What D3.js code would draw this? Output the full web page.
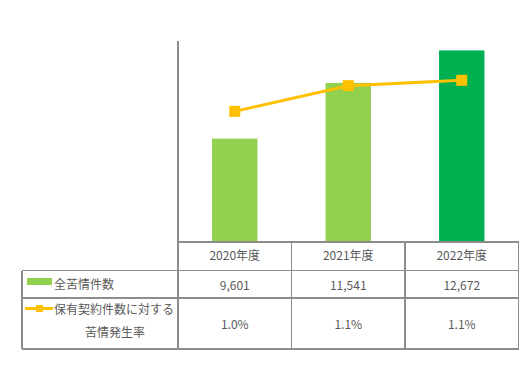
<!DOCTYPE html>
<html>
<head>
<meta charset="utf-8">
<script src="https://cdn.jsdelivr.net/npm/d3@7"></script>
<style>
  body { margin: 0; background: #fff; }
  svg text { font-family: "Noto Sans CJK JP", "Noto Sans", sans-serif; font-size: 12px; fill: #595959; }
</style>
</head>
<body>
<svg width="531" height="367"></svg>
<script>
// data
var years = ['2020年度', '2021年度', '2022年度'];
var complaints = [9601, 11541, 12672];
var rates = [0.985, 1.10, 1.124];  // % shown rounded to 1 decimal
var barColors = ['#92D050', '#92D050', '#00B050'];
var complaintsLabel = '全苦情件数';
var rateLabel = ['保有契約件数に対する', '苦情発生率'];

var svg = d3.select('svg');
var plotLeft = 178, plotRight = 518.5, plotTop = 41, base = 242;
var tableLeft = 22, row1 = 270.5, row2 = 298, bottom = 349;
var gridColor = '#8c8c8c';

var x = d3.scaleBand().domain(years).range([plotLeft, plotRight])
  .paddingInner(0.6).paddingOuter(0.3);
var y = d3.scaleLinear().domain([6000, 13000]).range([base, plotTop]);
var y2 = d3.scaleLinear().domain([0.4, 1.3]).range([base, plotTop]);
var step = x.step();

// bars
svg.selectAll('rect.bar')
  .data(complaints)
  .enter()
  .append('rect')
  .attr('class', 'bar')
  .attr('x', function (d, i) { return x(years[i]); })
  .attr('y', function (d) { return y(d); })
  .attr('width', x.bandwidth())
  .attr('height', function (d) { return base - y(d); })
  .style('fill', function (d, i) { return barColors[i]; });

// line + markers
var line = d3.line()
  .x(function (d, i) { return x(years[i]) + x.bandwidth() / 2; })
  .y(function (d) { return y2(d); });

svg.append('path')
  .datum(rates)
  .attr('d', line)
  .style('fill', 'none')
  .style('stroke', '#FFC000')
  .style('stroke-width', 3);

svg.selectAll('rect.marker')
  .data(rates)
  .enter()
  .append('rect')
  .attr('class', 'marker')
  .attr('x', function (d, i) { return x(years[i]) + x.bandwidth() / 2 - 5.5; })
  .attr('y', function (d) { return y2(d) - 5.5; })
  .attr('width', 11)
  .attr('height', 11)
  .style('fill', '#FFC000');

// table grid
var g = svg.append('g').style('stroke', gridColor).style('stroke-width', 1.2).style('shape-rendering', 'crispEdges');
g.append('line').attr('x1', plotLeft).attr('x2', plotLeft).attr('y1', plotTop).attr('y2', bottom);
g.append('line').attr('x1', plotLeft).attr('x2', plotRight).attr('y1', base).attr('y2', base);
[row1, row2, bottom].forEach(function (r) {
  g.append('line').attr('x1', tableLeft).attr('x2', plotRight).attr('y1', r).attr('y2', r);
});
g.append('line').attr('x1', tableLeft).attr('x2', tableLeft).attr('y1', row1).attr('y2', bottom);
d3.range(1, years.length + 1).forEach(function (i) {
  var xx = plotLeft + i * step;
  g.append('line').attr('x1', xx).attr('x2', xx).attr('y1', base).attr('y2', bottom);
});

// table texts
var cx = function (i) { return plotLeft + step * (i + 0.5); };
svg.selectAll('text.year')
  .data(years).enter().append('text')
  .attr('x', function (d, i) { return cx(i); })
  .attr('y', (base + row1) / 2 - 2)
  .attr('text-anchor', 'middle').attr('dominant-baseline', 'central')
  .text(function (d) { return d; });

svg.selectAll('text.cnt')
  .data(complaints).enter().append('text')
  .attr('x', function (d, i) { return cx(i); })
  .attr('y', (row1 + row2) / 2)
  .attr('text-anchor', 'middle').attr('dominant-baseline', 'central')
  .text(function (d) { return d3.format(',')(d); });

svg.selectAll('text.rate')
  .data(rates).enter().append('text')
  .attr('x', function (d, i) { return cx(i); })
  .attr('y', (row2 + bottom) / 2)
  .attr('text-anchor', 'middle').attr('dominant-baseline', 'central')
  .text(function (d) { return d.toFixed(1) + '%'; });

// legend in table
svg.append('rect').attr('x', 27).attr('y', 278).attr('width', 25).attr('height', 7).style('fill', '#92D050');
svg.append('text').attr('x', 54).attr('y', 283.5).attr('dominant-baseline', 'central').text(complaintsLabel);

svg.append('line').attr('x1', 25).attr('x2', 53).attr('y1', 308.5).attr('y2', 308.5)
  .style('stroke', '#FFC000').style('stroke-width', 3);
svg.append('rect').attr('x', 36).attr('y', 305).attr('width', 7).attr('height', 7).style('fill', '#FFC000');
svg.append('text').attr('x', 54).attr('y', 308.5).attr('dominant-baseline', 'central').text(rateLabel[0]);
svg.append('text').attr('x', 115).attr('y', 331.5).attr('text-anchor', 'middle').attr('dominant-baseline', 'central').text(rateLabel[1]);
</script>
</body>
</html>
